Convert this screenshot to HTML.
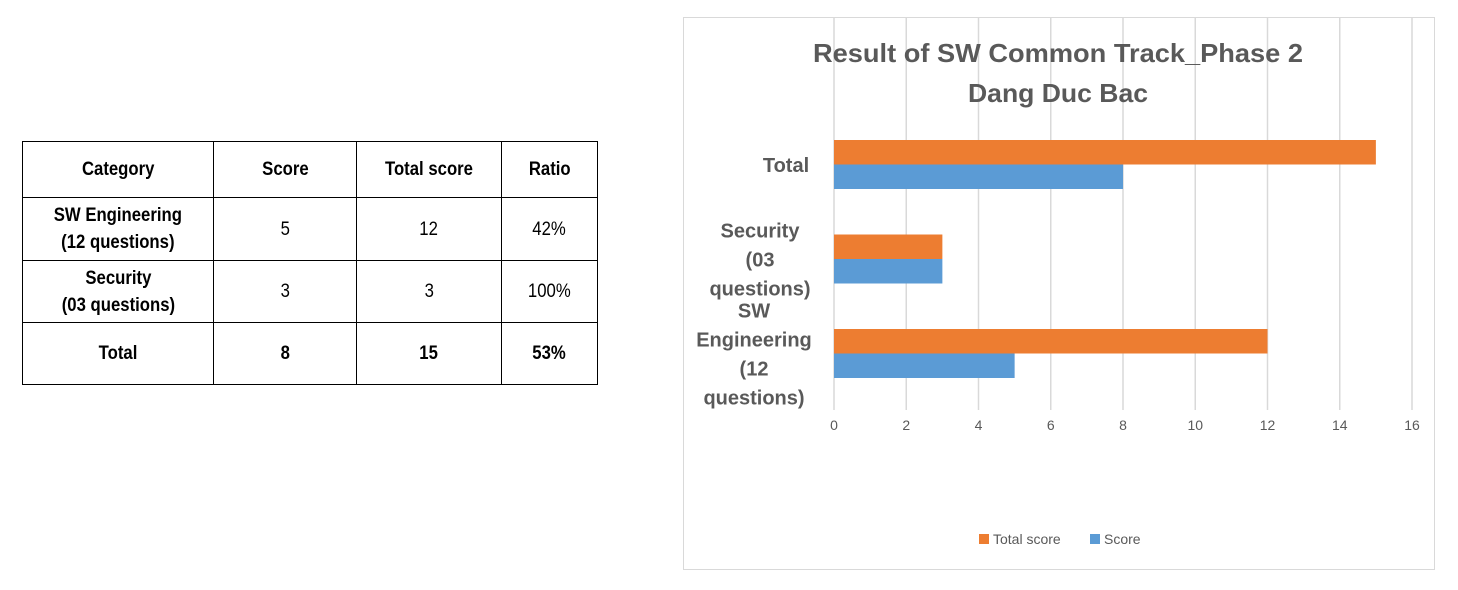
<!DOCTYPE html>
<html><head><meta charset="utf-8"><style>
body{margin:0;width:1458px;height:590px;background:#fff;position:relative;overflow:hidden;font-family:"Liberation Sans",Arial,sans-serif}
table{position:absolute;left:22px;top:141px;border-collapse:collapse}
td{border:1px solid #000;text-align:center;font-size:19px;padding:0;color:#000;line-height:27px}
td span{display:inline-block;transform:scaleX(0.88)}
.h td{height:55px}
b{font-weight:bold}
</style></head><body>
<table>
<tr class="h"><td style="width:190px"><span><b>Category</b></span></td><td style="width:142px"><span><b>Score</b></span></td><td style="width:144px"><span><b>Total score</b></span></td><td style="width:95px"><span><b>Ratio</b></span></td></tr>
<tr style="height:63px"><td><span><b>SW Engineering<br>(12 questions)</b></span></td><td><span>5</span></td><td><span>12</span></td><td><span>42%</span></td></tr>
<tr style="height:62px"><td><span><b>Security<br>(03 questions)</b></span></td><td><span>3</span></td><td><span>3</span></td><td><span>100%</span></td></tr>
<tr style="height:62px"><td><span><b>Total</b></span></td><td><span><b>8</b></span></td><td><span><b>15</b></span></td><td><span><b>53%</b></span></td></tr>
</table>
<svg id="chart" width="1458" height="590" style="position:absolute;left:0;top:0">
<rect x="683.5" y="17.5" width="751" height="552" fill="none" stroke="#d9d9d9"/>
<g id="grid"></g>
<text x="1058" y="62" text-anchor="middle" font-size="26" font-weight="bold" fill="#595959" textLength="490" lengthAdjust="spacingAndGlyphs">Result of SW Common Track_Phase 2</text>
<text x="1058" y="102" text-anchor="middle" font-size="26" font-weight="bold" fill="#595959" textLength="180" lengthAdjust="spacingAndGlyphs">Dang Duc Bac</text>
<g id="bars"></g><g id="labels"></g>
<rect x="979" y="534" width="10" height="10" fill="#ed7d31"/>
<text x="993" y="544" font-size="14" fill="#595959">Total score</text>
<rect x="1090" y="534" width="10" height="10" fill="#5b9bd5"/>
<text x="1104" y="544" font-size="14" fill="#595959">Score</text>
</svg>
<script>
const categories=["Total","Security (03 questions)","SW Engineering (12 questions)"];
const catLines=[["Total"],["Security","(03","questions)"],["SW","Engineering","(12","questions)"]];
const totalScore=[15,3,12];
const score=[8,3,5];
const ticks=[0,2,4,6,8,10,12,14,16];
const NS="http://www.w3.org/2000/svg";
const x=v=>834+v*(1412-834)/16;
const bandY=i=>140+i*94.5;
function mk(t,a,p){const e=document.createElementNS(NS,t);for(const k in a)e.setAttribute(k,a[k]);p.appendChild(e);return e;}
const g=document.getElementById('grid'),b=document.getElementById('bars'),l=document.getElementById('labels');
ticks.forEach(t=>{
const ln=mk('line',{x1:x(t),x2:x(t),y1:18,y2:410,stroke:'#d9d9d9','stroke-width':1.5},g);


const tx=mk('text',{x:x(t),y:430,'text-anchor':'middle','font-size':14,fill:'#595959'},l);tx.textContent=t;


});
categories.forEach((c,i)=>{
const y0=bandY(i);
const r1=mk('rect',{x:x(0),y:y0,width:x(totalScore[i])-x(0),height:24.5,fill:'#ed7d31'},b);


const r2=mk('rect',{x:x(0),y:y0+24.5,width:x(score[i])-x(0),height:24.5,fill:'#5b9bd5'},b);


const lines=catLines[i];const cy=y0+25;const n=lines.length;
const cx=n===1?786:(n===3?760:754);
lines.forEach((s,j)=>{
const tx=mk('text',{x:cx,y:cy+(j-(n-1)/2)*29+7,'text-anchor':'middle','font-size':20,'font-weight':'bold',fill:'#595959'},l);
tx.textContent=s;


});
});
</script>
</body></html>
